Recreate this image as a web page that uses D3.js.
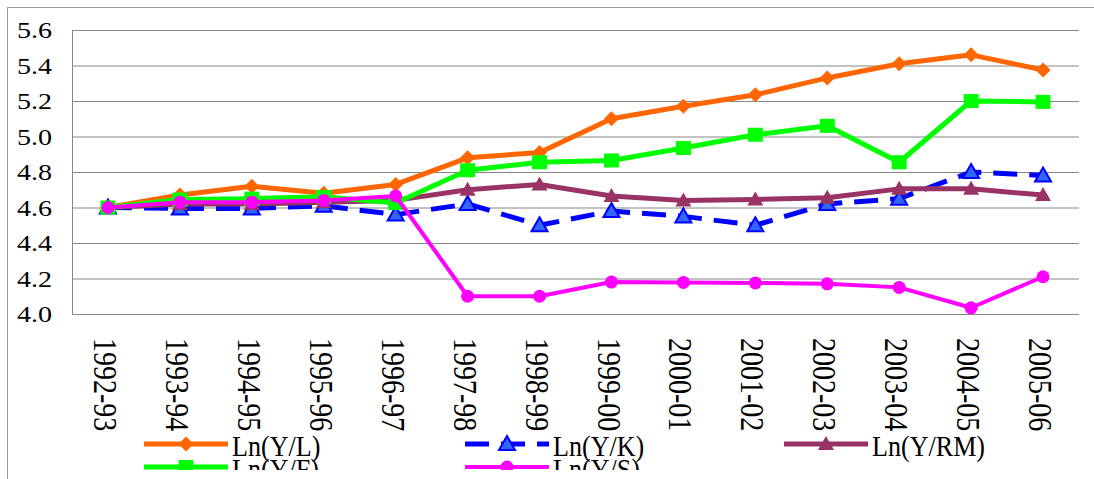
<!DOCTYPE html>
<html>
<head>
<meta charset="utf-8">
<script src="https://cdn.jsdelivr.net/npm/d3@7"></script>
<style>
  body { margin: 0; background: white; }
  text { font-family: "Liberation Serif", "Times New Roman", serif; fill: black; }
</style>
</head>
<body>
<div id="container"></div>
<script>
let w = 1094;
let h = 479;

// data
let years = ["1992-93","1993-94","1994-95","1995-96","1996-97","1997-98","1998-99",
             "1999-00","2000-01","2001-02","2002-03","2003-04","2004-05","2005-06"];
let lnYL  = [4.60, 4.67, 4.72, 4.68, 4.73, 4.88, 4.91, 5.10, 5.17, 5.235, 5.33, 5.41, 5.46, 5.375];
let lnYK  = [4.60, 4.595, 4.595, 4.61, 4.56, 4.62, 4.50, 4.58, 4.55, 4.50, 4.62, 4.65, 4.80, 4.78];
let lnYRM = [4.60, 4.62, 4.62, 4.63, 4.64, 4.70, 4.73, 4.665, 4.64, 4.645, 4.655, 4.705, 4.705, 4.67];
let lnYF  = [4.60, 4.645, 4.65, 4.66, 4.625, 4.81, 4.855, 4.865, 4.935, 5.01, 5.06, 4.855, 5.20, 5.195];
let lnYS  = [4.60, 4.63, 4.63, 4.64, 4.665, 4.10, 4.10, 4.18, 4.178, 4.175, 4.17, 4.15, 4.035, 4.21];
let yTicks = [4.0, 4.2, 4.4, 4.6, 4.8, 5.0, 5.2, 5.4, 5.6];

// series in legend order (row by row)
let series = [
  {name: "Ln(Y/L)",  values: lnYL,  color: "#ff6600", marker: "diamond"},
  {name: "Ln(Y/K)",  values: lnYK,  color: "#0000ff", marker: "triangleOpen", dash: "24,12"},
  {name: "Ln(Y/RM)", values: lnYRM, color: "#993366", marker: "triangle"},
  {name: "Ln(Y/F)",  values: lnYF,  color: "#00ff00", marker: "square"},
  {name: "Ln(Y/S)",  values: lnYS,  color: "#ff00ff", marker: "circle", width: 4}
];

let viz = d3.select("#container")
  .append("svg")
  .attr("width", w)
  .attr("height", h)
  .style("display", "block");

// outer frame of the chart
viz.append("rect")
  .attr("x", 7.5).attr("y", 7.5)
  .attr("width", w + 10).attr("height", h + 10)
  .attr("fill", "none").attr("stroke", "#9a9a9a");

let plotLeft = 72, plotRight = 1079, plotTop = 30, plotBottom = 314;

let xScale = d3.scalePoint().domain(years).range([plotLeft, plotRight]).padding(0.5);
let yScale = d3.scaleLinear().domain([4.0, 5.6]).range([plotBottom, plotTop]);

// gridlines + y labels
let yAxis = d3.axisLeft(yScale)
  .tickValues(yTicks)
  .tickSize(-(plotRight - plotLeft))
  .tickPadding(20)
  .tickFormat(d3.format(".1f"));

let yAxisGroup = viz.append("g")
  .attr("class", "yAxis")
  .attr("transform", "translate(" + plotLeft + ",0)")
  .call(yAxis);
yAxisGroup.select(".domain").remove();
yAxisGroup.selectAll(".tick line").attr("stroke", "#868686").attr("stroke-width", 1);
yAxisGroup.selectAll(".tick text")
  .attr("x", 0).attr("dy", null)
  .attr("dominant-baseline", "central")
  .attr("text-anchor", "end")
  .attr("fill", "black")
  .style("font-size", "24px")
  .style("font-family", "'Liberation Serif', serif")
  .attr("transform", "translate(-20,0) scale(1.17,1)");

// left edge of plot area
viz.append("line")
  .attr("x1", plotLeft + 0.5).attr("x2", plotLeft + 0.5)
  .attr("y1", plotTop).attr("y2", plotBottom)
  .attr("stroke", "#868686");

// rotated category labels
viz.append("g").attr("class", "xLabels")
  .selectAll("text").data(years).enter()
  .append("text")
  .attr("transform", function(d){
    return "translate(" + (xScale(d) - 2.5) + ",338) rotate(90) scale(1,1.2)";
  })
  .attr("dominant-baseline", "central")
  .style("font-size", "28px")
  .text(function(d){ return d; });

function markerPath(type){
  if (type == "diamond") return "M0,-7.5L7.5,0L0,7.5L-7.5,0Z";
  if (type == "square") return "M-7.5,-7L7.5,-7L7.5,7L-7.5,7Z";
  if (type == "triangle" || type == "triangleOpen") return "M0,-8L8,6L-8,6Z";
  return d3.symbol().type(d3.symbolCircle).size(Math.PI * 6.5 * 6.5)();
}

function drawMarker(g, s){
  let p = g.append("path").attr("d", markerPath(s.marker));
  if (s.marker == "triangleOpen"){
    p.attr("fill", "#3366ff").attr("stroke", "#0000ff").attr("stroke-width", 2);
  } else {
    p.attr("fill", s.color);
  }
}

let line = d3.line()
  .x(function(d, i){ return xScale(years[i]); })
  .y(function(d){ return yScale(d); });

let vizGroup = viz.append("g").attr("class", "vizgroup");

series.forEach(function(s){
  let g = vizGroup.append("g").attr("class", "series");
  g.append("path")
    .datum(s.values)
    .attr("d", line)
    .attr("fill", "none")
    .attr("stroke", s.color)
    .attr("stroke-width", s.width || 5)
    .attr("stroke-linejoin", "round")
    .attr("stroke-dasharray", s.dash || null);

  let dots = g.selectAll(".dot").data(s.values).enter()
    .append("g")
    .attr("class", "dot")
    .attr("transform", function(d, i){
      return "translate(" + xScale(years[i]) + "," + yScale(d) + ")";
    });
  dots.each(function(){ drawMarker(d3.select(this), s); });
});

// legend (cut off at the bottom like the original)
viz.append("clipPath").attr("id", "legendClip")
  .append("rect").attr("x", 0).attr("y", 0).attr("width", w).attr("height", 470);

let legend = viz.append("g").attr("clip-path", "url(#legendClip)");
let colX = [144, 465, 784];
let rowY = [444, 467];

series.forEach(function(s, i){
  let x0 = colX[i % 3];
  let y0 = rowY[Math.floor(i / 3)];
  let item = legend.append("g").attr("transform", "translate(" + x0 + "," + y0 + ")");
  item.append("line")
    .attr("x1", 0).attr("x2", 84)
    .attr("stroke", s.color)
    .attr("stroke-width", s.width || 5)
    .attr("stroke-dasharray", s.dash || null);
  let m = item.append("g").attr("transform", "translate(42,0)");
  drawMarker(m, s);
  item.append("text")
    .attr("transform", "translate(88,2) scale(0.9,1)")
    .attr("dominant-baseline", "central")
    .style("font-size", "29px")
    .text(s.name);
});
</script>
</body>
</html>
